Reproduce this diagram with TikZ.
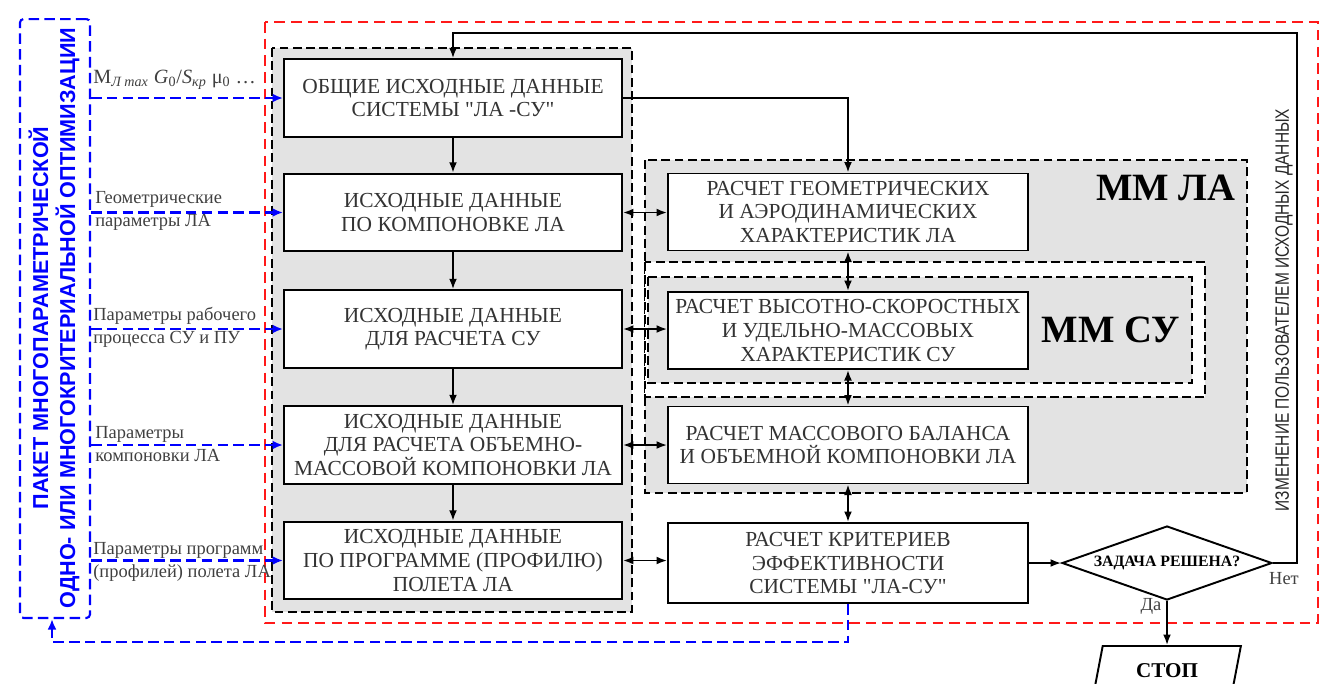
\documentclass[tikz,border=0pt]{standalone}
\usepackage{fontspec}
\setmainfont{Liberation Serif}
\setsansfont{Liberation Sans}
\newfontfamily\narrowsans[FakeStretch=0.8]{Liberation Sans}
\usetikzlibrary{arrows.meta,shapes.geometric}

\begin{document}
\begin{tikzpicture}[x=0.02cm,y=-0.02cm,
  box/.style={draw,line width=1.1pt,fill=white,align=center,text=black!80,
    font=\fontsize{12.2}{13.4}\selectfont,inner sep=1pt},
  lbox/.style={box,minimum width=6.76cm,minimum height=1.55cm},
  rbox/.style={box,minimum width=7.2cm,minimum height=1.54cm},
  region/.style={draw,line width=1.1pt,dash pattern=on 5pt off 2.5pt,fill=black!11},
  mmlabel/.style={font=\bfseries\fontsize{22}{22}\selectfont},
  tip/.style={line width=1pt,-{Latex[length=6pt,width=4.5pt]}},
  dtip/.style={line width=1pt,{Latex[length=6pt,width=4.5pt]}-{Latex[length=6pt,width=4.5pt]}},
  bluearr/.style={blue,line width=1.2pt,dash pattern=on 6pt off 3pt,-{Latex[length=6pt,width=5pt]}},
  param/.style={anchor=west,align=left,text=black!75,font=\fontsize{10.5}{13}\selectfont,inner sep=0pt},
  small/.style={text=black!75,font=\fontsize{10.5}{12}\selectfont,inner sep=0pt}]
\useasboundingbox (0,0) rectangle (1321,683);

% frames
\draw[red!90,line width=1.2pt,dash pattern=on 6pt off 3.5pt] (265,22) rectangle (1318,623);
\node[draw=blue,line width=1.2pt,dash pattern=on 6pt off 3pt,rounded corners=2pt,
  minimum width=1.4cm,minimum height=11.98cm] (opt) at (55,318.5) {};
\node[rotate=90,text=blue,font=\sffamily\bfseries\fontsize{12.3}{15.5}\selectfont,align=center]
  at (54,318) {ПАКЕТ МНОГОПАРАМЕТРИЧЕСКОЙ\\ОДНО- ИЛИ МНОГОКРИТЕРИАЛЬНОЙ ОПТИМИЗАЦИИ};

% grey groups
\draw[region] (272,48) rectangle (632,612);
\draw[region] (645,160) rectangle (1247,493);
\draw[region,fill=white] (645,262) rectangle (1205,397);
\draw[region] (648,277) rectangle (1192,383);
\node[mmlabel] at (1166,188) {ММ ЛА};
\node[mmlabel] at (1111,330) {ММ СУ};

% input data
\node[lbox] (init) at (453,98) {ОБЩИЕ ИСХОДНЫЕ ДАННЫЕ\\СИСТЕМЫ \textquotedbl ЛА -СУ\textquotedbl};
\node[lbox] (lay) at (453,212.5) {ИСХОДНЫЕ ДАННЫЕ\\ПО КОМПОНОВКЕ ЛА};
\node[lbox] (suin) at (453,329) {ИСХОДНЫЕ ДАННЫЕ\\ДЛЯ РАСЧЕТА СУ};
\node[lbox] (volin) at (453,445) {ИСХОДНЫЕ ДАННЫЕ\\ДЛЯ РАСЧЕТА ОБЪЕМНО-\\МАССОВОЙ КОМПОНОВКИ ЛА};
\node[lbox] (prog) at (453,560.5) {ИСХОДНЫЕ ДАННЫЕ\\ПО ПРОГРАММЕ (ПРОФИЛЮ)\\ПОЛЕТА ЛА};

% calculations
\node[rbox] (geo) at (848,212) {РАСЧЕТ ГЕОМЕТРИЧЕСКИХ\\И АЭРОДИНАМИЧЕСКИХ\\ХАРАКТЕРИСТИК ЛА};
\node[rbox] (sucalc) at (848,330.5) {РАСЧЕТ ВЫСОТНО-СКОРОСТНЫХ\\И УДЕЛЬНО-МАССОВЫХ\\ХАРАКТЕРИСТИК СУ};
\node[rbox] (mass) at (848,445) {РАСЧЕТ МАССОВОГО БАЛАНСА\\И ОБЪЕМНОЙ КОМПОНОВКИ ЛА};
\node[rbox,minimum height=1.6cm] (crit) at (848,563) {РАСЧЕТ КРИТЕРИЕВ\\ЭФФЕКТИВНОСТИ\\СИСТЕМЫ \textquotedbl ЛА-СУ\textquotedbl};

\node[draw,line width=1.1pt,diamond,aspect=2.8,inner sep=0.5pt,fill=white,
  minimum width=4.2cm,minimum height=1.48cm,font=\bfseries\fontsize{9}{9}\selectfont] (done) at (1167,563) {ЗАДАЧА РЕШЕНА?};
\node[draw,line width=1.1pt,trapezium,trapezium left angle=72,trapezium right angle=108,
  trapezium stretches=true,minimum width=2.96cm,minimum height=1cm,inner sep=0pt,
  font=\bfseries\fontsize{12}{12}\selectfont] (stop) at (1167,671) {СТОП};

% connectors
\foreach \a/\b in {init/lay,lay/suin,suin/volin,volin/prog}
  \draw[tip] (\a.south) -- (\b.north);
\draw[tip] (init.east) -| (geo.north);
\draw[dtip] (lay.east) -- (lay.east -| geo.west);
\draw[dtip] (suin.east) -- (suin.east -| sucalc.west);
\draw[dtip] (volin.east) -- (volin.east -| mass.west);
\draw[dtip] (prog.east) -- (prog.east -| crit.west);
\foreach \a/\b in {geo/sucalc,sucalc/mass,mass/crit}
  \draw[dtip] (\a.south) -- (\b.north);
\draw[tip] (crit.east) -- (done.west);
\draw[tip] (done.south) -- (stop.north);
\coordinate (fbtop) at (1297,33);
\draw[tip] (done.east) -| (fbtop) -| (init.north);
\node[rotate=90,text=black!85,font=\narrowsans\fontsize{11}{11}\selectfont] (chg) at (1284,310)
  {ИЗМЕНЕНИЕ ПОЛЬЗОВАТЕЛЕМ ИСХОДНЫХ ДАННЫХ};
\node[small] (no) at (1284,579) {Нет};
\node[small] (yes) at (1151,606) {Да};

% optimisation links
\foreach \b in {init,lay,suin,volin,prog}
  \draw[bluearr] (opt.east |- \b.west) -- (\b.west);
\coordinate (fbcorner) at (52,642);
\draw[bluearr] (crit.south) |- (fbcorner) -- (fbcorner |- opt.south);

% parameters
\node[param,font=\fontsize{11.5}{13}\selectfont] at (93,80) {M\textsubscript{\itshape Л max} \textit{G}\textsubscript{0}/\textit{S}\textsubscript{\itshape кр} μ\textsubscript{0} \dots};
\node[param] at (95,211) {Геометрические\\параметры ЛА};
\node[param] at (93,327) {Параметры рабочего\\процесса СУ и ПУ};
\node[param] at (95,444) {Параметры\\компоновки ЛА};
\node[param] at (93,562) {Параметры программ\\(профилей) полета ЛА};
\end{tikzpicture}
\end{document}
